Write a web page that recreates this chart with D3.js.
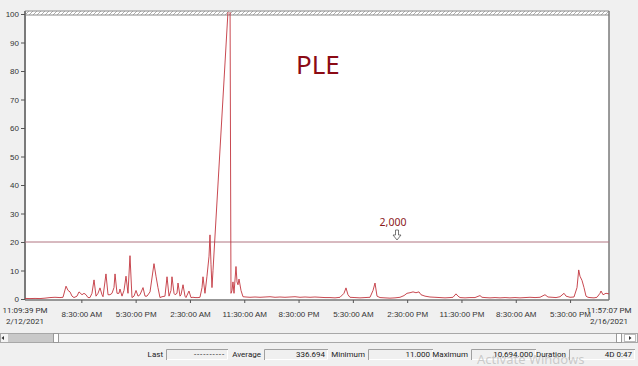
<!DOCTYPE html>
<html>
<head>
<meta charset="utf-8">
<script src="https://cdn.jsdelivr.net/npm/d3@7"></script>
<style>
    body { margin: 0; background: #f0f0f0; overflow: hidden; }
    svg { display: block; font-family: Roboto, "Noto Sans", sans-serif; }
</style>
</head>
<body>
<div id="app"></div>
<script>
"use strict";

// hours elapsed since 11:09:39 PM 2/12/2021
const sampleHours = [
    0, 0.83, 1.66, 2.49, 3.31, 4.14, 4.97, 5.80, 6.30, 6.80, 7.13, 7.46, 7.79, 8.12, 8.62, 8.95,
    9.45, 9.78, 10.11, 10.44, 10.77, 11.10, 11.44, 11.77, 12.10, 12.43, 12.76, 12.93, 13.42, 13.76,
    14.09, 14.42, 14.75, 14.92, 15.25, 15.58, 15.74, 16.08, 16.41, 16.74, 17.07, 17.40, 17.73, 18.07,
    18.40, 18.73, 19.06, 19.56, 19.89, 20.22, 20.72, 21.38, 21.71, 22.04, 22.37, 22.71, 23.20, 23.54,
    23.87, 24.20, 24.36, 24.70, 24.86, 25.19, 25.36, 25.69, 25.86, 26.19, 26.52, 26.68, 27.18, 27.51,
    27.84, 28.18, 28.67, 29.00, 29.34, 29.50, 29.83, 30.16, 30.50, 30.66, 30.83, 30.99, 31.16, 33.81,
    33.98, 34.14, 34.31, 34.47, 34.64, 34.97, 35.14, 35.30, 35.47, 35.80, 36.13, 36.63, 37.29, 38.12,
    38.95, 39.78, 40.61, 41.44, 42.26, 43.09, 43.92, 44.75, 45.58, 46.41, 47.24, 48.06, 48.89, 49.72,
    50.55, 51.38, 52.21, 52.87, 53.20, 53.53, 53.86, 54.69, 55.52, 56.35, 57.18, 57.68, 58.01, 58.34,
    58.84, 59.67, 60.49, 61.32, 62.15, 62.82, 63.31, 63.81, 64.31, 64.80, 65.30, 65.63, 66.30, 67.12,
    67.95, 68.78, 69.61, 70.44, 70.94, 71.43, 71.77, 72.10, 72.93, 73.75, 74.58, 75.41, 75.74, 76.24,
    77.07, 77.90, 78.73, 79.56, 80.38, 81.21, 82.04, 82.87, 83.70, 84.53, 85.36, 86.18, 86.68, 87.35,
    88.01, 88.67, 89.34, 89.67, 90.33, 90.99, 91.49, 91.77, 91.98, 92.32, 92.65, 92.98, 93.31, 93.64,
    94.31, 94.80, 95.30, 95.47, 95.80, 96.29, 96.79
];

// Page Life Expectancy (seconds), shown at scale 0.01
const pleValues = [
    20, 15, 20, 15, 30, 50, 60, 50, 60, 450, 300, 250, 100, 50, 100, 250,
    150, 200, 150, 50, 50, 200, 670, 100, 200, 390, 150, 80, 880, 150,
    150, 200, 400, 880, 200, 200, 350, 100, 300, 800, 200, 1520, 50, 100,
    300, 100, 150, 400, 100, 100, 250, 1240, 800, 400, 50, 80, 100, 780,
    100, 300, 780, 200, 150, 200, 560, 100, 150, 500, 100, 50, 280, 50,
    60, 50, 50, 60, 400, 780, 200, 800, 1500, 2250, 1200, 400, 1000, 10694,
    10694, 200, 300, 600, 200, 1140, 600, 500, 700, 300, 80, 70, 60, 70,
    60, 70, 80, 60, 70, 60, 70, 80, 60, 70, 60, 70, 60, 50,
    50, 40, 60, 200, 390, 150, 60, 50, 40, 50, 60, 300, 560, 100,
    50, 40, 30, 40, 60, 120, 200, 220, 250, 220, 250, 150, 100, 70,
    60, 50, 40, 50, 60, 180, 100, 50, 40, 50, 50, 120, 60, 50,
    40, 50, 40, 50, 40, 50, 40, 50, 60, 50, 60, 150, 70, 60,
    50, 80, 200, 100, 60, 70, 400, 1020, 800, 650, 400, 100, 60, 50,
    40, 60, 200, 280, 150, 200, 180
];

const yTickValues = [0, 1000, 2000, 3000, 4000, 5000, 6000, 7000, 8000, 9000, 10000];
const xTickDates = [
    "2021-02-13 08:30", "2021-02-13 17:30", "2021-02-14 02:30", "2021-02-14 11:30",
    "2021-02-14 20:30", "2021-02-15 05:30", "2021-02-15 14:30", "2021-02-15 23:30",
    "2021-02-16 08:30", "2021-02-16 17:30"
];
const startStamp = "2021-02-12 23:09:39";
const endStamp = "2021-02-16 23:57:07";
const thresholdValue = 2000;
const chartTitle = "PLE";
const statLabels = ["Last", "Average", "Minimum", "Maximum", "Duration"];
const statValues = ["----------", "336.694", "11.000", "10,694.000", "4D 0:47"];

const parseStamp = d3.timeParse("%Y-%m-%d %H:%M:%S");
const parseTick = d3.timeParse("%Y-%m-%d %H:%M");
const formatTime = d3.timeFormat("%-I:%M:%S %p");
const formatDay = d3.timeFormat("%-m/%-d/%Y");

const width = 638;
const height = 366;
const plot = { left: 25, right: 609, top: 14, bottom: 299, band: 11 };
const smallFont = "8px";

/**
 * Draws the plot frame, hatched top band and axes
 */
const drawFrame = (svg, x, y) => {
    svg.append("rect")
        .attr("x", plot.left).attr("y", plot.band)
        .attr("width", plot.right - plot.left).attr("height", plot.bottom - plot.band)
        .attr("fill", "#fff");

    const pattern = svg.append("defs").append("pattern")
        .attr("id", "hatch").attr("patternUnits", "userSpaceOnUse")
        .attr("width", 4).attr("height", 4);
    pattern.append("path").attr("d", "M0,4 L4,0").attr("stroke", "#9a9a9a").attr("stroke-width", 0.8);

    svg.append("rect")
        .attr("x", plot.left).attr("y", plot.band)
        .attr("width", plot.right - plot.left).attr("height", plot.top - plot.band + 1)
        .attr("fill", "url(#hatch)");
    [plot.band, plot.top + 1].forEach(yy => {
        svg.append("line")
            .attr("x1", plot.left).attr("x2", plot.right)
            .attr("y1", yy).attr("y2", yy)
            .attr("stroke", "#8a8a8a").attr("stroke-width", 1);
    });
    svg.append("line")
        .attr("x1", plot.right).attr("x2", plot.right)
        .attr("y1", plot.band).attr("y2", plot.bottom + 1)
        .attr("stroke", "#7a7a7a").attr("stroke-width", 1.5);

    // y axis
    const yAxis = svg.append("g")
        .attr("transform", `translate(${plot.left},0)`)
        .call(d3.axisLeft(y).tickValues(yTickValues).tickFormat(d => d / 100).tickSize(4).tickPadding(2));
    yAxis.select(".domain").attr("d", `M0,${plot.band}V${plot.bottom + 1}`)
        .attr("stroke", "#7a7a7a").attr("stroke-width", 2);
    yAxis.selectAll(".tick line").attr("stroke", "#555");
    yAxis.selectAll("text").attr("fill", "#333").style("font-size", smallFont);

    // x axis
    const xAxis = svg.append("g")
        .attr("transform", `translate(0,${plot.bottom + 1})`)
        .call(d3.axisBottom(x).tickValues(xTickDates.map(parseTick)).tickFormat(formatTime).tickSize(3).tickPadding(8));
    xAxis.select(".domain").attr("d", `M${plot.left},0H${plot.right}`)
        .attr("stroke", "#7a7a7a").attr("stroke-width", 1.5);
    xAxis.selectAll(".tick line").attr("stroke", "#555");
    xAxis.selectAll("text").attr("fill", "#333").style("font-size", smallFont);

    // start / end stamps
    [parseStamp(startStamp), parseStamp(endStamp)].forEach(d => {
        const t = svg.append("text")
            .attr("x", x(d)).attr("y", 313)
            .attr("text-anchor", "middle")
            .attr("fill", "#333").style("font-size", smallFont);
        t.append("tspan").attr("x", x(d)).text(formatTime(d));
        t.append("tspan").attr("x", x(d)).attr("dy", 10.5).text(formatDay(d));
    });
}

/**
 * Draws the PLE series, the 2,000 threshold and the title
 */
const drawSeries = (svg, x, y) => {
    const start = parseStamp(startStamp);
    const points = sampleHours.map((h, i) => ({
        time: d3.timeSecond.offset(start, Math.round(h * 3600)),
        value: pleValues[i]
    }));

    svg.append("clipPath").attr("id", "plotClip")
        .append("rect")
        .attr("x", plot.left).attr("y", plot.band + 1)
        .attr("width", plot.right - plot.left).attr("height", plot.bottom - plot.band);

    svg.append("line")
        .attr("x1", plot.left).attr("x2", plot.right)
        .attr("y1", y(thresholdValue)).attr("y2", y(thresholdValue))
        .attr("stroke", "#b07480").attr("stroke-width", 1);

    const line = d3.line().x(d => x(d.time)).y(d => y(d.value));
    svg.append("path")
        .datum(points)
        .attr("clip-path", "url(#plotClip)")
        .attr("d", line)
        .attr("fill", "none")
        .attr("stroke", "#c2343d")
        .attr("stroke-width", 0.9);

    // threshold marker
    const markerX = 397;
    svg.append("text")
        .attr("x", markerX - 4).attr("y", y(thresholdValue) - 16)
        .attr("text-anchor", "middle")
        .attr("fill", "#8b1a1a")
        .style("font-family", "'Noto Sans', sans-serif")
        .style("font-size", "10.5px")
        .text(d3.format(",")(thresholdValue));
    svg.append("path")
        .attr("d", `M${markerX - 1.5},${y(thresholdValue) - 12}h3v5h2.5l-4,5l-4,-5h2.5z`)
        .attr("fill", "#fff").attr("stroke", "#555").attr("stroke-width", 0.8);

    svg.append("text")
        .attr("x", 296).attr("y", 74)
        .attr("fill", "#8b0a14")
        .style("font-family", "'Noto Sans', sans-serif")
        .style("font-size", "26px")
        .text(chartTitle);
}

/**
 * Draws the scrollbar and the statistics row
 */
const drawStatus = (svg) => {
    const bar = svg.append("g");
    bar.append("rect").attr("x", 0.5).attr("y", 333.5).attr("width", 637).attr("height", 9)
        .attr("fill", "#f4f4f4").attr("stroke", "#a8a8a8");
    bar.append("rect").attr("x", 8).attr("y", 334).attr("width", 45).attr("height", 8).attr("fill", "#c9c9c9");
    bar.append("rect").attr("x", 53.5).attr("y", 333.5).attr("width", 5).attr("height", 9)
        .attr("fill", "#fff").attr("stroke", "#999");
    bar.append("rect").attr("x", 616.5).attr("y", 333.5).attr("width", 5).attr("height", 9)
        .attr("fill", "#fff").attr("stroke", "#999");
    bar.append("rect").attr("x", 624.5).attr("y", 334.5).attr("width", 11).attr("height", 7)
        .attr("fill", "#fff").attr("stroke", "#bbb");
    bar.append("path").attr("d", "M4,336l-2.5,2l2.5,2z").attr("fill", "#333");
    bar.append("path").attr("d", "M629,336l2.5,2l-2.5,2z").attr("fill", "#333");

    const slots = [
        { labelEnd: 163, box: [166, 228] },
        { labelEnd: 261, box: [264, 328] },
        { labelEnd: 365, box: [368, 433] },
        { labelEnd: 468, box: [471, 536] },
        { labelEnd: 566, box: [569, 635] }
    ];
    const stats = svg.append("g").style("font-size", smallFont).attr("fill", "#222");
    slots.forEach((s, i) => {
        stats.append("text").attr("x", s.labelEnd).attr("y", 357)
            .attr("text-anchor", "end").text(statLabels[i]);
        stats.append("path")
            .attr("d", `M${s.box[0] + 0.5},360V349.5H${s.box[1]}`)
            .attr("fill", "none").attr("stroke", "#a0a0a0");
        stats.append("path")
            .attr("d", `M${s.box[0] + 1},359.5H${s.box[1] - 0.5}V350`)
            .attr("fill", "none").attr("stroke", "#fff");
        stats.append("text").attr("x", s.box[1] - 3).attr("y", 357)
            .attr("text-anchor", "end")
            .style("letter-spacing", statValues[i].startsWith("-") ? "0.9px" : null)
            .text(statValues[i]);
    });

    svg.append("text")
        .attr("x", 477).attr("y", 364)
        .attr("fill", "#a8a8a8").attr("fill-opacity", 0.55)
        .style("font-family", "'Noto Sans', sans-serif")
        .style("font-size", "13px")
        .text("Activate Windows");
}

const svg = d3.select("#app").append("svg")
    .attr("width", width)
    .attr("height", height);

const x = d3.scaleTime()
    .domain([parseStamp(startStamp), parseStamp(endStamp)])
    .range([plot.left, plot.right]);
const y = d3.scaleLinear()
    .domain([0, 10000])
    .range([plot.bottom, plot.top]);

drawFrame(svg, x, y);
drawSeries(svg, x, y);
drawStatus(svg);
</script>
</body>
</html>
